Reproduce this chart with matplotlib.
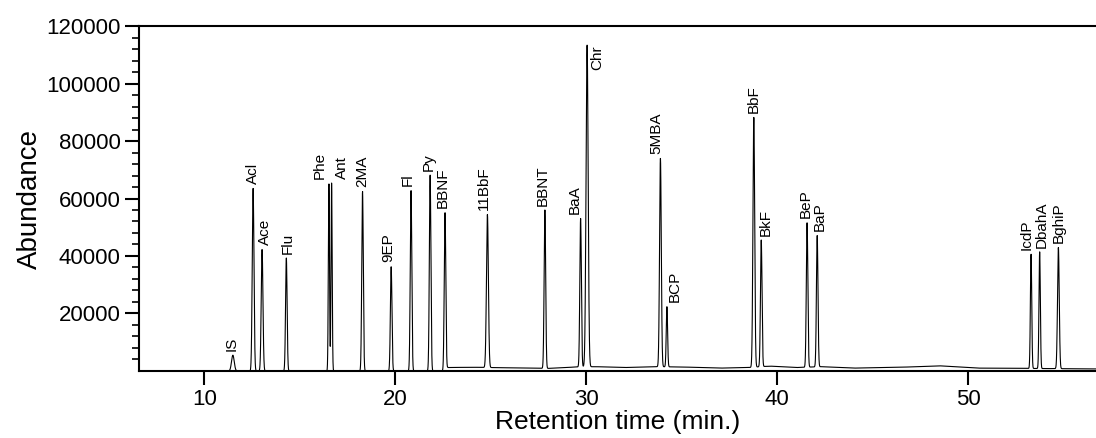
import numpy as np
import matplotlib
matplotlib.use("Agg")
import matplotlib.pyplot as plt
from matplotlib.ticker import FixedLocator

plt.rcParams['font.family'] = ['Liberation Sans', 'DejaVu Sans']

# --- peak table ---
names = ['IS', 'Acl', 'Ace', 'Flu', 'Phe', 'Ant', '2MA', '9EP', 'Fl', 'Py',
         'BBNF', '11BbF', 'BBNT', 'BaA', 'Chr', '5MBA', 'BCP', 'BbF', 'BkF',
         'BeP', 'BaP', 'IcdP', 'DbahA', 'BghiP']
rt = [11.50, 12.56, 13.03, 14.30, 16.53, 16.67, 18.29, 19.79, 20.83, 21.83,
      22.61, 24.83, 27.84, 29.71, 30.05, 33.89, 34.23, 38.78, 39.17,
      41.57, 42.10, 53.30, 53.75, 54.73]
height = [5500, 63500, 42300, 39300, 65200, 65500, 62500, 36300, 62800, 68200,
          55100, 54500, 56000, 53100, 113400, 74000, 22400, 88200, 45600,
          51600, 47100, 40600, 41500, 43000]
sigma = [0.07, 0.045, 0.045, 0.04, 0.03, 0.03, 0.04, 0.04, 0.04, 0.04,
         0.04, 0.05, 0.04, 0.04, 0.055, 0.045, 0.035, 0.045, 0.04,
         0.04, 0.04, 0.035, 0.035, 0.045]
# horizontal nudge of each label (pixels)
label_dx = [-1, 0, 3, 1, -9, 10, 0, -3, -3, -1,
            -2, -4, -2, -6, 0, -4, 8, 0, 5,
            -1, 3, -4, 2, 0]

# baseline drift (time, abundance)
base_t = [6.5, 22.5, 22.75, 24.0, 26.0, 28.0, 29.5, 30.5, 32.0, 33.5, 35.0,
          37.0, 38.5, 39.6, 41.0, 42.3, 44.0, 46.5, 48.5, 50.5, 53.0, 55.0, 57.0]
base_y = [0, 0, 1200, 1300, 1100, 900, 1400, 1500, 1200, 1500, 1400,
          1000, 1200, 1700, 1200, 1500, 1000, 1300, 1800, 1000, 900, 800, 700]

fig = plt.figure(figsize=(10.96, 4.38), dpi=100)
ax = fig.add_axes([0.1264, 0.153, 0.8736, 0.7876])

t = np.arange(6.5, 57.0, 0.004)
trace = np.interp(t, base_t, base_y)
for r, h, s in zip(rt, height, sigma):
    amp = h - np.interp(r, base_t, base_y)
    trace = trace + amp * np.exp(-0.5 * ((t - r) / s) ** 2)
ax.plot(t, trace, color='black', lw=0.8)

for name, r, h, dx in zip(names, rt, height, label_dx):
    if name == 'Chr':
        ax.annotate(name, xy=(r, h), xytext=(2.5, 0), textcoords='offset points',
                    rotation=90, ha='left', va='top', fontsize=11)
    else:
        ax.annotate(name, xy=(r, h), xytext=(dx * 0.72, 3), textcoords='offset points',
                    rotation=90, ha='center', va='bottom', fontsize=11)

ax.set_xlim(6.56, 56.7)
ax.set_ylim(0, 120000)
ax.set_xticks([10, 20, 30, 40, 50])
ax.yaxis.set_major_locator(FixedLocator([20000, 40000, 60000, 80000, 100000, 120000]))
ax.yaxis.set_minor_locator(FixedLocator([v for v in range(4000, 120000, 4000) if v % 20000]))

ax.spines['right'].set_visible(False)
for sp in ['left', 'top', 'bottom']:
    ax.spines[sp].set_linewidth(1.5)
ax.tick_params(axis='both', which='major', direction='out', length=10, width=1.5,
               labelsize=16, pad=3)
ax.tick_params(axis='y', which='minor', direction='out', length=5, width=1.2)

ax.set_xlabel('Retention time (min.)', fontsize=19)
ax.xaxis.set_label_coords(0.5, -0.168)
ax.xaxis.label.set_verticalalignment('baseline')
ax.set_ylabel('Abundance', fontsize=20, labelpad=2)

fig.savefig('out.png', dpi=100)
